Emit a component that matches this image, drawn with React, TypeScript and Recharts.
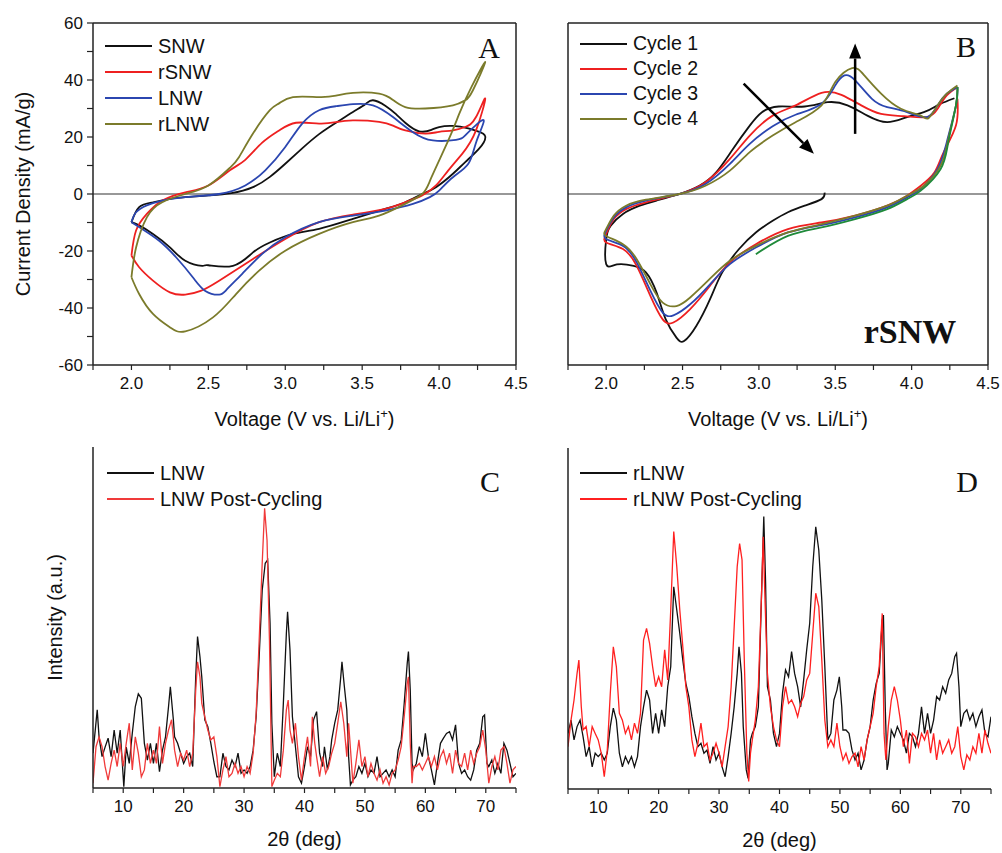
import React from "react";
import { LineChart, Line, XAxis, YAxis, ReferenceLine, Legend } from "recharts";

const SANS = '"Liberation Sans", Arial, sans-serif';
const SERIF = '"Liberation Serif", "Times New Roman", serif';

type Pt = [number, number];

// ---- panel A: CV of the four wire samples, [V, mA/g], loop order as swept
const snw: Pt[] = [[2.0,-9.9],[2.05,-4.6],[2.14,-2.9],[2.25,-1.7],[2.35,-1.1],[2.5,-0.5],[2.65,0.3],[2.79,2.4],[2.9,6],[3.0,10.6],[3.11,16],[3.22,21],[3.33,25],[3.44,28.8],[3.52,31.5],[3.57,32.9],[3.65,31],[3.72,28],[3.78,25],[3.87,22],[3.95,22.5],[4.0,23.5],[4.09,23.9],[4.19,23],[4.25,22],[4.3,20.2],[4.26,15.9],[4.17,11.2],[4.09,7.1],[3.98,2.4],[3.89,0],[3.78,-2.9],[3.65,-5.2],[3.44,-8.7],[3.22,-12.2],[3.05,-14],[2.9,-17],[2.79,-20.5],[2.66,-25.2],[2.5,-25],[2.46,-25.2],[2.35,-23.4],[2.25,-18.7],[2.14,-14],[2.05,-11],[2.0,-9.9]];
const rsnw: Pt[] = [[2.0,-21.6],[2.03,-12.8],[2.1,-7],[2.2,-2.3],[2.35,0.6],[2.5,3],[2.64,8.3],[2.74,12],[2.85,18],[2.96,22.3],[3.07,25],[3.22,24.7],[3.33,25.2],[3.44,25.8],[3.61,25.3],[3.7,24],[3.78,22.3],[3.91,21.2],[4.0,21.8],[4.09,22.3],[4.17,23.5],[4.24,27],[4.3,33.5],[4.24,22.3],[4.15,14.1],[4.06,8.3],[3.98,3],[3.89,-0.5],[3.78,-2.9],[3.65,-5.2],[3.44,-7.2],[3.22,-9.9],[3.0,-15.8],[2.79,-22.8],[2.57,-30.4],[2.45,-34],[2.35,-35.3],[2.25,-34.5],[2.14,-30.4],[2.05,-25.7],[2.0,-21.6]];
const lnw: Pt[] = [[2.0,-9.9],[2.03,-6.4],[2.1,-4],[2.2,-2.3],[2.35,-1.1],[2.57,0],[2.74,3],[2.87,8.3],[3.0,16.5],[3.11,24.7],[3.22,29.4],[3.33,30.8],[3.44,31.5],[3.57,31.1],[3.7,27],[3.83,21.7],[3.96,18.8],[4.11,19],[4.17,20.6],[4.25,24.7],[4.29,25.3],[4.24,18],[4.19,10.6],[4.09,5.9],[4.0,1.2],[3.94,-1.1],[3.83,-3.5],[3.65,-5.8],[3.44,-7.6],[3.22,-9.9],[3.0,-15.2],[2.85,-21],[2.72,-28],[2.62,-33.5],[2.57,-35.3],[2.48,-34],[2.4,-29.3],[2.29,-22.2],[2.18,-16.4],[2.07,-12.3],[2.0,-9.9]];
const rlnwCv: Pt[] = [[2.0,-29.2],[2.03,-18.8],[2.1,-8.2],[2.2,-2.9],[2.35,0],[2.5,3],[2.64,9.2],[2.7,13],[2.79,21.2],[2.9,29.4],[2.96,31.8],[3.05,34],[3.22,34],[3.33,34.5],[3.44,35.5],[3.61,35.2],[3.7,33],[3.78,30.5],[3.91,30],[4.09,31.1],[4.17,32.9],[4.22,36.4],[4.3,46.3],[4.21,37.5],[4.13,28],[4.06,18.8],[3.95,5.8],[3.89,0],[3.76,-4],[3.61,-7.6],[3.44,-9.9],[3.22,-14],[3.0,-19.9],[2.83,-26.9],[2.68,-35.1],[2.53,-43.3],[2.35,-48.2],[2.25,-46.8],[2.14,-42.1],[2.05,-35.1],[2.0,-29.2]];

// ---- panel B: rSNW cycles 1-4
const cycle1: Pt[] = [[3.43,0.5],[3.41,-1.8],[3.3,-4.1],[3.19,-6.4],[3.09,-9.4],[2.98,-13.5],[2.87,-19.3],[2.76,-27.5],[2.68,-36.9],[2.59,-46.3],[2.51,-51.6],[2.46,-50.4],[2.39,-44],[2.33,-34.6],[2.26,-27.5],[2.18,-25.2],[2.07,-24.7],[2.0,-24.6],[2.0,-15.8],[2.03,-11.1],[2.11,-7],[2.22,-4.1],[2.33,-2.3],[2.48,0],[2.61,2.9],[2.72,7.6],[2.83,15.8],[2.94,24],[3.02,28.7],[3.13,30.7],[3.3,30.7],[3.45,32.2],[3.58,31.1],[3.71,27.5],[3.84,25.2],[3.97,27],[4.08,28.7],[4.15,30.5],[4.19,31.7],[4.28,33.6]];
const cycle2: Pt[] = [[4.3,33.4],[4.29,24],[4.21,14.7],[4.15,7.6],[4.06,2.9],[3.97,-0.6],[3.84,-4.1],[3.63,-7.6],[3.41,-10],[3.19,-12.3],[2.98,-17.6],[2.81,-24],[2.68,-32.2],[2.55,-40.4],[2.44,-45.1],[2.37,-44],[2.29,-35.8],[2.2,-25.2],[2.11,-19.3],[2.0,-17],[2.0,-14],[2.05,-8.8],[2.13,-5.3],[2.26,-2.9],[2.48,0],[2.65,4.1],[2.81,12.3],[2.94,20.5],[3.09,27.5],[3.24,31.1],[3.41,35.5],[3.54,34.8],[3.67,31.1],[3.8,28.1],[3.95,27.3],[4.1,27],[4.17,29.9],[4.23,34.6],[4.3,37.5]];
const cycle3: Pt[] = [[4.3,37.5],[4.29,31],[4.23,18.2],[4.17,8.8],[4.06,1.8],[3.97,-1.2],[3.84,-4.7],[3.63,-8.2],[3.41,-10.9],[3.19,-13.5],[2.98,-18.8],[2.81,-24.6],[2.68,-31.7],[2.55,-38.7],[2.44,-42.6],[2.37,-41.6],[2.29,-34],[2.2,-24],[2.11,-18.2],[2.0,-15.8],[2.0,-12.9],[2.05,-8.2],[2.13,-4.7],[2.26,-2.3],[2.48,0],[2.65,3.5],[2.81,10.6],[2.94,17.6],[3.09,23.8],[3.24,27.8],[3.41,31.7],[3.5,38.1],[3.56,41.6],[3.63,39.9],[3.74,33.4],[3.84,30.5],[3.97,28.7],[4.1,27],[4.17,31.1],[4.23,35.2],[4.3,37.5]];
const cycle4: Pt[] = [[4.3,37.5],[4.29,31],[4.24,19.3],[4.19,10],[4.08,2.9],[3.97,-0.6],[3.84,-4.1],[3.63,-7.6],[3.41,-10.6],[3.19,-13.5],[2.98,-18.2],[2.81,-23.4],[2.68,-29.7],[2.55,-36.3],[2.46,-39.3],[2.37,-38.1],[2.29,-31.7],[2.2,-22.9],[2.11,-17.6],[2.0,-14.7],[2.0,-12.3],[2.05,-7.6],[2.13,-4.1],[2.26,-2],[2.48,0],[2.65,2.9],[2.81,8.2],[2.94,14.7],[3.09,20.5],[3.24,25.2],[3.41,31.1],[3.5,39.3],[3.61,44.2],[3.69,41.6],[3.8,35.2],[3.93,29.9],[4.06,27.5],[4.11,26.6],[4.17,31.1],[4.23,35.2],[4.3,38.1]];
const cycleTail: Pt[] = [[4.3,37.5],[4.29,31],[4.24,18.2],[4.19,8.8],[4.06,1.2],[3.97,-1.8],[3.84,-5.3],[3.63,-8.8],[3.41,-11.7],[3.19,-14.7],[2.98,-21.1]];
const arrowShift: Pt[] = [[2.9,38.7],[3.36,14.1]];
const arrowRise: Pt[] = [[3.63,21.1],[3.63,52.8]];

// ---- panels C/D: XRD, [2theta, intensity a.u.]
const lnwXrd: Pt[] = [[5,10.2],[5.7,22.9],[6,15],[6.5,9.2],[7,12],[7.5,14.6],[8,9.2],[8.5,17],[9,10.2],[9.5,17],[10.1,0.4],[10.5,12],[11,7.2],[11.5,16],[12,23.9],[12.5,27.6],[13,26.3],[13.5,13.1],[14,8.2],[14.5,13.1],[15,7.2],[15.5,13.1],[16,4.8],[16.5,11.1],[17,15],[17.5,23.9],[17.8,29.7],[18.3,20],[18.5,15],[19,13.1],[19.5,10.2],[20,7.2],[20.5,9.2],[21,10.2],[21.5,6.3],[22,32.6],[22.3,44.4],[22.7,38.5],[23,32.6],[23.5,20],[24,18],[24.5,13.1],[25,7.7],[25.5,3.3],[26,3.3],[26.5,10.2],[27,6.3],[27.5,5.3],[28,8.2],[28.5,6.3],[29,10.2],[29.5,4.3],[30,5.3],[30.5,4.3],[31,6.3],[31.5,11.1],[32,20.9],[32.5,38.5],[33,58],[33.5,65.9],[33.9,66.9],[34.3,48.3],[34.6,19],[35,3.3],[35.5,10.2],[36,6.3],[36.5,24.8],[37,45.4],[37.2,51.7],[37.6,40.5],[38,20.9],[38.5,12.1],[39,3.3],[39.5,1.4],[40,6.3],[40.5,12.1],[41,9.2],[41.5,20],[42,22.4],[42.5,10.2],[43,6.3],[43.3,12.1],[43.8,5.3],[44.2,9.2],[44.5,14.1],[45,19],[45.5,22.9],[46,32.6],[46.2,37],[46.6,29.7],[47,22.9],[47.3,9.2],[47.6,0.9],[48,2.3],[48.5,3.3],[49,6.3],[49.5,4.3],[50,7.2],[50.5,3.3],[51,5.3],[51.5,4.3],[52,9.2],[52.5,3.3],[53,4.3],[53.5,5.3],[54,3.3],[54.5,5.3],[55,3.3],[55.5,11.1],[56,14.1],[56.5,24.8],[57,36.6],[57.2,40],[57.5,28.7],[57.8,7.2],[58,5.3],[58.5,7.2],[59,12.1],[59.5,9.2],[60,16],[60.5,9.2],[61,5.3],[61.5,0.9],[62,7.2],[62.5,13.1],[63,14.6],[63.5,16],[64,16.5],[64.5,14.1],[65,18.5],[65.5,7.2],[66,4.3],[66.5,5.3],[67,3.3],[67.5,2.3],[68,5.3],[68.5,11.1],[69,13.1],[69.5,20.9],[69.8,21.4],[70.2,7.2],[70.5,6.3],[71,8.2],[71.5,4.3],[72,7.2],[72.5,4.3],[73,13.1],[73.5,11.1],[74,7.2],[74.5,3.3],[75,4.3]];
const lnwPostXrd: Pt[] = [[5,1.4],[5.5,12.1],[6,15],[6.5,12.1],[7,6.3],[7.5,2.3],[8,7.2],[8.5,11.1],[9,6.3],[9.5,13.1],[10,6.3],[10.5,13.1],[11,19],[11.5,5.3],[12,15],[12.5,10.2],[13,3.3],[13.5,5.3],[14,13.1],[14.5,7.2],[15,11.1],[15.5,7.2],[16,18],[16.5,7.2],[17,13.1],[17.5,17],[18,20],[18.5,11.1],[19,6.3],[19.5,10.2],[20,8.2],[20.5,11.1],[21,6.3],[21.5,10.2],[22,28.7],[22.3,37],[22.7,32.6],[23,24.8],[23.5,20.9],[24,17],[24.5,14.1],[25,15],[25.5,9.2],[26,0.4],[26.5,5.3],[27,9.2],[27.5,3.3],[28,4.3],[28.5,7.2],[29,4.3],[29.5,6.3],[30,3.3],[30.5,6.3],[31,4.3],[31.5,10.2],[32,21.9],[32.5,43.4],[33,65.9],[33.4,82],[33.8,72.7],[34.2,43.4],[34.6,0.4],[35,2.3],[35.5,4.3],[36,3.3],[36.5,11.1],[37,22.9],[37.3,25.8],[37.6,17],[38,13.1],[38.5,19],[39,9.2],[39.5,2.3],[40,9.2],[40.5,15],[41,6.3],[41.3,20.9],[41.7,13.1],[42,9.2],[42.5,3.3],[43,9.2],[43.5,4.3],[44,6.3],[44.5,10.2],[45,13.1],[45.5,19],[46,25.3],[46.5,19],[47,9.2],[47.3,19],[47.7,9.2],[48,1.4],[48.5,7.2],[49,14.1],[49.5,6.3],[50,9.2],[50.5,3.3],[51,7.2],[51.5,4.3],[52,2.3],[52.5,5.3],[53,1.4],[53.5,3.3],[54,0.9],[54.5,4.3],[55,5.3],[55.5,8.2],[56,12.1],[56.5,20.9],[57,30.7],[57.2,32.6],[57.5,13.1],[57.8,1.4],[58,6.3],[58.5,6.3],[59,7.2],[59.5,5.3],[60,7.2],[60.5,9.2],[61,6.3],[61.5,9.2],[62,5.3],[62.5,9.2],[63,11.1],[63.5,7.2],[64,10.2],[64.5,4.3],[65,11.1],[65.5,7.2],[66,6.3],[66.5,10.2],[67,5.3],[67.5,11.1],[68,7.2],[68.5,10.2],[69,12.1],[69.5,17],[70,11.1],[70.5,1.4],[71,6.3],[71.5,9.2],[72,5.3],[72.5,11.1],[73,12.1],[73.5,7.2],[74,1.4],[74.5,5.3],[75,6.3]];
const rlnwXrd: Pt[] = [[5,16.3],[5.5,20.2],[6,14.4],[6.5,18.3],[7,20.2],[7.5,15.3],[8,9.5],[8.5,12.4],[9,6.5],[9.5,10.5],[10,9.5],[10.5,10.5],[11,8.5],[11.5,10.5],[12,18.3],[12.5,23.7],[13,20.2],[13.5,10.5],[14,6.5],[14.5,9.5],[15,7.5],[15.5,9.5],[16,6.5],[16.5,9.5],[17,18.3],[17.5,24.1],[18,29],[18.5,26.1],[19,16.3],[19.5,22.2],[20,16.3],[20.5,23.2],[21,18.3],[21.5,30],[22,35.9],[22.5,59.3],[23,52.5],[23.5,45.6],[24,37.8],[24.5,31],[25,27.1],[25.5,21.2],[26,16.3],[26.5,12.4],[27,13.4],[27.5,10.5],[28,11.4],[28.5,7.5],[29,12.4],[29.5,8.5],[30,10.5],[30.5,6.5],[31,3.6],[31.5,9.5],[32,16.3],[32.5,24.1],[33,33.9],[33.3,41.7],[33.7,33.9],[34,18.3],[34.5,5.6],[34.8,3.1],[35.2,14.4],[35.5,16.3],[36,18.3],[36.5,24.1],[37,55.4],[37.4,79.9],[37.7,60.3],[38,30],[38.5,26.1],[39,16.3],[39.5,12.4],[40,16.3],[40.5,28.1],[41,34.9],[41.5,32.9],[42,40.3],[42.5,33.9],[43,30],[43.5,24.1],[44,32],[44.5,40.8],[45,48.6],[45.5,65.2],[46,76.9],[46.5,70.1],[47,55.4],[47.5,35.9],[48,14.4],[48.5,16.3],[49,26.1],[49.5,29],[49.9,32.9],[50.3,24.1],[50.5,17.3],[51,17.3],[51.5,16.3],[52,11.4],[52.5,8.5],[53,10.5],[53.5,5.6],[54,8.5],[54.5,14.4],[55,18.3],[55.5,26.1],[56,31],[56.5,33.9],[57,49.6],[57.2,51],[57.5,24.1],[57.8,5.6],[58,7.5],[58.5,17.3],[59,15.3],[59.5,18.3],[60,16.3],[60.5,14.4],[61,10.5],[61.5,16.3],[62,15.3],[62.5,12.4],[63,16.3],[63.5,24.1],[64,16.3],[64.5,22.2],[65,16.3],[65.5,20.2],[66,27.1],[66.5,26.1],[67,30],[67.5,28.1],[68,32],[68.5,33.9],[69,38.8],[69.3,39.8],[69.7,30],[70,18.3],[70.5,22.2],[71,23.2],[71.5,20.2],[72,22.2],[72.5,18.3],[73,21.2],[73.5,23.2],[74,16.3],[74.5,15.3],[75,21.2]];
const rlnwPostXrd: Pt[] = [[5,12.4],[5.5,20.2],[6,26.1],[6.5,33.9],[6.8,37.8],[7.2,24.1],[7.5,17.3],[8,18.3],[8.5,12.4],[9,18.3],[9.5,16.3],[10,14.4],[10.5,10.5],[11,3.6],[11.5,11.4],[12,28.1],[12.5,41.7],[13,35.9],[13.5,22.2],[14,20.2],[14.5,16.3],[15,18.3],[15.5,14.4],[16,19.3],[16.5,16.3],[17,22.2],[17.5,43.7],[18,47.1],[18.5,42.7],[19,35.9],[19.5,30],[20,32.9],[20.5,30],[21,40.8],[21.5,32],[22,52.5],[22.5,75.5],[23,65.2],[23.5,52.5],[24,41.7],[24.5,30],[25,24.1],[25.5,14.4],[26,9.5],[26.5,13.4],[27,19.3],[27.5,12.4],[28,13.4],[28.5,8.5],[29,10.5],[29.5,13.4],[30,10.5],[30.5,6.5],[31,12.4],[31.5,18.3],[32,30],[32.5,47.6],[33,65.2],[33.4,72],[33.8,67.2],[34.2,35.9],[34.6,10.5],[34.9,2.2],[35.2,10.5],[35.5,14.4],[36,20.2],[36.5,30],[37,55.4],[37.3,74],[37.6,55.4],[38,33.9],[38.5,24.1],[39,18.3],[39.5,14.4],[40,12.4],[40.5,24.1],[41,30],[41.5,25.1],[42,26.1],[42.5,24.1],[43,21.2],[43.5,25.1],[44,27.1],[44.5,32],[45,33.9],[45.5,45.6],[46,57.4],[46.5,53.5],[47,37.8],[47.5,20.2],[48,12.4],[48.5,14.4],[49,12.4],[49.5,19.3],[50,12.4],[50.5,8.5],[51,10.5],[51.5,7.5],[52,9.5],[52.5,10.5],[53,6.5],[53.5,12.4],[54,8.5],[54.5,14.4],[55,18.3],[55.5,22.2],[56,30],[56.5,35.9],[57,51.5],[57.3,16.3],[57.6,8.5],[58,18.3],[58.5,26.1],[59,30],[59.5,26.1],[60,20.2],[60.5,12.4],[61,17.3],[61.5,7.5],[62,16.3],[62.5,15.3],[63,12.4],[63.5,16.3],[64,14.4],[64.5,17.3],[65,10.5],[65.5,16.3],[66,8.5],[66.5,14.4],[67,10.5],[67.5,12.4],[68,14.4],[68.5,10.5],[69,12.4],[69.5,18.3],[70,9.5],[70.5,5.6],[71,10],[71.5,8.5],[72,12.4],[72.5,10.5],[73,16.3],[73.5,10.5],[74,17.3],[74.5,13.4],[75,10.5]];

// ticks
const cvXTicks = [1.75, 2, 2.25, 2.5, 2.75, 3, 3.25, 3.5, 3.75, 4, 4.25, 4.5];
const cvYTicks = [-60, -50, -40, -30, -20, -10, 0, 10, 20, 30, 40, 50, 60];
const xrdTicks = [5, 10, 15, 20, 25, 30, 35, 40, 45, 50, 55, 60, 65, 70, 75];

const rows = (pts: Pt[]) => pts.map(([x, y]) => ({ x, y }));

const tickStyle = { fill: "#111", fontSize: 17, fontFamily: SANS };
const axisLine = { stroke: "#222", strokeWidth: 1.5 };
const tickLine = { stroke: "#222", strokeWidth: 1.2 };

// legend keeps the series order (recharts would sort by name)
const renderLegend = (names: string[], colors: string[], rowH: number, fontSize: number) => () => (
  <div style={{ fontFamily: SANS, fontSize, color: "#111", lineHeight: 1 }}>
    {names.map((n, i) => (
      <div key={n} style={{ display: "flex", alignItems: "center", height: rowH }}>
        <span style={{ display: "inline-block", width: 47, borderTop: `2px solid ${colors[i]}`, marginRight: 6 }} />
        <span>{n}</span>
      </div>
    ))}
  </div>
);

const yLabel = (text: string, x: number) => (props: any) => {
  const vb = props.viewBox || {};
  const cy = vb.y + vb.height / 2;
  return (
    <text x={x} y={cy} transform={`rotate(-90 ${x} ${cy})`} textAnchor="middle" dominantBaseline="central"
      style={{ fontFamily: SANS, fontSize: 20, fill: "#111" }}>{text}</text>
  );
};

const voltLabel = (props: any) => {
  const vb = props.viewBox || {};
  return (
    <text x={vb.x + vb.width / 2} y={vb.y + 61} textAnchor="middle" style={{ fontFamily: SANS, fontSize: 20, fill: "#111" }}>
      Voltage (V vs. Li/Li<tspan dy={-8} fontSize={13}>+</tspan><tspan dy={8}>)</tspan>
    </text>
  );
};

const thetaLabel = (props: any) => {
  const vb = props.viewBox || {};
  return (
    <text x={vb.x + vb.width / 2} y={vb.y + 58} textAnchor="middle" style={{ fontFamily: SANS, fontSize: 20, fill: "#111" }}>
      2θ (deg)
    </text>
  );
};

const Arrow = (p: any) => {
  const { x1, y1, x2, y2 } = p;
  const a = Math.atan2(y2 - y1, x2 - x1);
  const L = 15, W = 6;
  const bx = x2 - L * Math.cos(a), by = y2 - L * Math.sin(a);
  const pts = `${x2},${y2} ${bx + W * Math.sin(a)},${by - W * Math.cos(a)} ${bx - W * Math.sin(a)},${by + W * Math.cos(a)}`;
  return (
    <g>
      <line x1={x1} y1={y1} x2={bx} y2={by} stroke="#000" strokeWidth={2.5} />
      <polygon points={pts} fill="#000" />
    </g>
  );
};

const cvFmtX = (v: number) => (Math.abs(v * 2 - Math.round(v * 2)) < 1e-6 ? v.toFixed(1) : "");
const cvFmtY = (v: number) => (v % 20 === 0 ? String(v) : "");
const xrdFmt = (v: number) => (v % 10 === 0 ? String(v) : "");

const CV_COLORS = ["#111111", "#ee2020", "#2b46b0", "#7b7b2b"];

function CvPanel({ series, names, withYTicks, legendPos, arrows, tail }: any) {
  return (
    <LineChart width={withYTicks ? 530 : 502} height={430} margin={{ top: 23, right: 14, left: 0, bottom: 0 }}>
      <XAxis type="number" dataKey="x" domain={[1.75, 4.5]} ticks={cvXTicks} tickFormatter={cvFmtX} allowDataOverflow
        height={65} tick={tickStyle} axisLine={axisLine} tickLine={tickLine} tickSize={5} tickMargin={7} label={voltLabel} />
      {withYTicks ? (
        <YAxis type="number" dataKey="y" domain={[-60, 60]} ticks={cvYTicks} tickFormatter={cvFmtY} allowDataOverflow
          width={93} tick={tickStyle} axisLine={axisLine} tickLine={tickLine} tickSize={6} tickMargin={4}
          label={yLabel("Current Density (mA/g)", 23)} />
      ) : (
        <YAxis type="number" dataKey="y" domain={[-60, 60]} allowDataOverflow width={68} tick={false} tickLine={false} axisLine={axisLine} />
      )}
      <ReferenceLine y={0} stroke="#333" strokeWidth={1.2} />
      <ReferenceLine y={60} stroke="#222" strokeWidth={1.5} />
      <ReferenceLine x={4.5} stroke="#222" strokeWidth={1.5} />
      {series.map((s: Pt[], i: number) => (
        <Line key={names[i]} data={rows(s)} dataKey="y" name={names[i]} type="natural" stroke={CV_COLORS[i]}
          strokeWidth={1.8} dot={false} activeDot={false} isAnimationActive={false} />
      ))}
      {tail ? (
        <Line data={rows(tail)} dataKey="y" name="tail" legendType="none" type="natural" stroke="#1f8a3a"
          strokeWidth={1.8} dot={false} activeDot={false} isAnimationActive={false} />
      ) : null}
      {(arrows || []).map((a: Pt[], i: number) => (
        <ReferenceLine key={i} segment={rows(a)} shape={Arrow} ifOverflow="visible" />
      ))}
      <Legend layout="vertical" align="center" verticalAlign="middle"
        content={renderLegend(names, CV_COLORS, legendPos.row, legendPos.font)}
        wrapperStyle={{ left: legendPos.left, top: legendPos.top, width: "auto" }} />
    </LineChart>
  );
}

function XrdPanel({ black, red, names, redColor, wide, legendPos, yLab }: any) {
  return (
    <LineChart width={wide ? 530 : 502} height={423} margin={{ top: wide ? 17 : 18, right: wide ? 14 : 11, left: 0, bottom: 0 }}>
      <XAxis type="number" dataKey="x" domain={[5, 75]} ticks={xrdTicks} tickFormatter={xrdFmt} allowDataOverflow
        height={wide ? 65 : 64} tick={tickStyle} axisLine={axisLine} tickLine={tickLine} tickSize={5} tickMargin={7} label={thetaLabel} />
      <YAxis type="number" dataKey="y" domain={[0, 100]} allowDataOverflow width={wide ? 93 : 68} tick={false} tickLine={false}
        axisLine={axisLine} label={yLab ? yLabel(yLab, 55) : undefined} />
      <Line data={rows(black)} dataKey="y" name={names[0]} type="linear" stroke="#111" strokeWidth={1.3}
        dot={false} activeDot={false} isAnimationActive={false} />
      <Line data={rows(red)} dataKey="y" name={names[1]} type="linear" stroke={redColor} strokeWidth={1.3}
        dot={false} activeDot={false} isAnimationActive={false} />
      <Legend layout="vertical" align="center" verticalAlign="middle" content={renderLegend(names, ["#111", redColor], 26, 20)}
        wrapperStyle={{ left: legendPos.left, top: legendPos.top, width: "auto" }} />
    </LineChart>
  );
}

export default function App() {
  const letter = { fontFamily: SERIF, fontSize: 30, fill: "#111" } as const;
  return (
    <div style={{ position: "absolute", left: 0, top: 0, width: 1002, height: 853, background: "#fff" }}>
      <div style={{ position: "absolute", left: 0, top: 0 }}>
        <CvPanel series={[snw, rsnw, lnw, rlnwCv]} names={["SNW", "rSNW", "LNW", "rLNW"]} withYTicks
          legendPos={{ left: 105, top: 33, row: 26, font: 20 }} />
      </div>
      <div style={{ position: "absolute", left: 500, top: 0 }}>
        <CvPanel series={[cycle1, cycle2, cycle3, cycle4]} names={["Cycle 1", "Cycle 2", "Cycle 3", "Cycle 4"]}
          legendPos={{ left: 80, top: 31, row: 25, font: 19.5 }} arrows={[arrowShift, arrowRise]} tail={cycleTail} />
      </div>
      <div style={{ position: "absolute", left: 0, top: 430 }}>
        <XrdPanel black={lnwXrd} red={lnwPostXrd} names={["LNW", "LNW Post-Cycling"]} redColor="#f03a3a" wide
          legendPos={{ left: 107, top: 30 }} yLab="Intensity (a.u.)" />
      </div>
      <div style={{ position: "absolute", left: 500, top: 430 }}>
        <XrdPanel black={rlnwXrd} red={rlnwPostXrd} names={["rLNW", "rLNW Post-Cycling"]} redColor="#ff2020"
          legendPos={{ left: 80, top: 30 }} />
      </div>
      <svg width={1002} height={853} style={{ position: "absolute", left: 0, top: 0, pointerEvents: "none" }}>
        <text x={489} y={58} textAnchor="middle" style={letter}>A</text>
        <text x={966} y={57} textAnchor="middle" style={letter}>B</text>
        <text x={490} y={492} textAnchor="middle" style={letter}>C</text>
        <text x={967} y={492} textAnchor="middle" style={letter}>D</text>
        <text x={910} y={343} textAnchor="middle" style={{ fontFamily: SERIF, fontSize: 34, fontWeight: 700, fill: "#111" }}>rSNW</text>
      </svg>
    </div>
  );
}
